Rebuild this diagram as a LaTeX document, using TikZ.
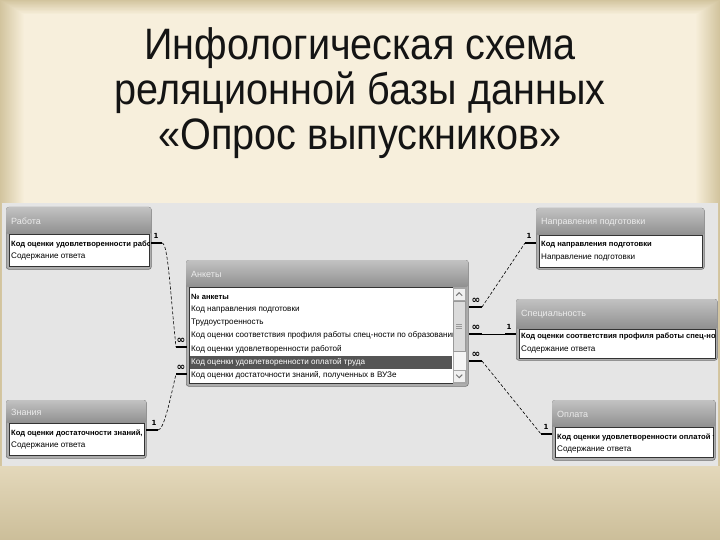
\documentclass[tikz,border=0pt]{standalone}
\usepackage{fontspec}
\setmainfont{Liberation Sans}
\newfontfamily\symf{DejaVu Sans}
\definecolor{tanedge}{HTML}{D2C49E}
\definecolor{cream}{HTML}{F9F1DE}
\definecolor{panel}{HTML}{E5E5E5}
\definecolor{selgray}{HTML}{555555}
\begin{document}
\begin{tikzpicture}[x=1pt,y=-1pt,
  tblbox/.style={draw=black!55, fill=black!32, rounded corners=2.5pt, inner sep=0pt, anchor=north west, line width=0.6pt},
  tblbar/.style={inner sep=0pt, anchor=north west, top color=black!24, bottom color=black!44, rounded corners=2.5pt},
  field/.style={draw=black!80, fill=white, inner sep=0pt, anchor=north west, line width=0.5pt},
  tbltitle/.style={anchor=west, text=black!8, font=\fontsize{9}{10}\selectfont, inner sep=0pt},
  keyrow/.style={anchor=west, inner sep=0pt, font=\fontsize{7.6}{8}\selectfont\bfseries},
  fieldrow/.style={anchor=west, inner sep=0pt, font=\fontsize{8.1}{9}\selectfont},
  selrow/.style={anchor=west, inner sep=0pt, text=white, font=\fontsize{8.1}{9}\selectfont},
  selbar/.style={fill=selgray, inner sep=0pt, anchor=north west},
  card/.style={font=\symf\fontsize{7}{7}\selectfont\bfseries, inner sep=0pt},
  many/.style={font=\symf\fontsize{10.5}{10}\selectfont\bfseries, inner sep=0pt},
  keyend/.style={line width=2.2pt},
  rel/.style={line width=0.6pt, dash pattern=on 3pt off 2pt},
  solidrel/.style={line width=0.7pt},
  sbtn/.style={draw=black!35, fill=black!6, inner sep=0pt, anchor=north west},
  sthumb/.style={draw=black!40, fill=black!14, inner sep=0pt, anchor=north west},
  titletxt/.style={align=center, font=\fontsize{44}{45}\selectfont, text=black!92}
]
\useasboundingbox (0,0) rectangle (720,540);
% background frame
\fill[tanedge] (0,0) rectangle (720,540);
\foreach \i in {0,...,24}{
  \pgfmathtruncatemacro\p{100-\i*4}
  \fill[tanedge!\p!cream] (\i*1.0,\i*0.6) rectangle (720-\i*1.0,540);
}
% screenshot panel
\fill[panel] (2,203) rectangle (718,466);
\shade[top color=tanedge!55!cream, bottom color=tanedge!97!black] (0,466) rectangle (720,540);

% title
\node[titletxt] (title) at (360,93) {\scalebox{0.9}[1]{Инфологическая схема}\\\scalebox{0.9}[1]{реляционной базы данных}\\\scalebox{0.9}[1]{«Опрос выпускников»}};

% ---------- Работа
\node[tblbox, minimum width=145, minimum height=62] (rab) at (6,207) {};
\node[tblbar, minimum width=145, minimum height=27] (rabbar) at (6,207) {};
\node[tbltitle] (rabT) at (11,221) {Работа};
\node[field, minimum width=140, minimum height=32] (rabF) at (9,234) {};
\begin{scope}
\clip (9,234) rectangle (149,266);
\node[keyrow] (rab1) at (11,244) {Код оценки удовлетворенности работой};
\node[fieldrow] (rab2) at (11,257) {Содержание ответа};
\end{scope}

% ---------- Знания
\node[tblbox, minimum width=140, minimum height=58] (zn) at (6,400) {};
\node[tblbar, minimum width=140, minimum height=23] (znbar) at (6,400) {};
\node[tbltitle] (znT) at (11,412) {Знания};
\node[field, minimum width=135, minimum height=32] (znF) at (9,423) {};
\begin{scope}
\clip (9,423) rectangle (144,455);
\node[keyrow] (zn1) at (11,433) {Код оценки достаточности знаний, полученных};
\node[fieldrow] (zn2) at (11,446) {Содержание ответа};
\end{scope}

% ---------- Анкеты
\node[tblbox, minimum width=282, minimum height=126] (ank) at (186,260) {};
\node[tblbar, minimum width=282, minimum height=27] (ankbar) at (186,260) {};
\node[tbltitle] (ankT) at (191,274) {Анкеты};
\node[field, minimum width=277, minimum height=96] (ankF) at (189,287) {};
\node[selbar, minimum width=262, minimum height=12.5] (ankSel) at (190,356) {};
\begin{scope}
\clip (189,287) rectangle (452,383);
\node[keyrow] (ankr1) at (191,296.5) {№ анкеты};
\node[fieldrow] (ankr2) at (191,309.5) {Код направления подготовки};
\node[fieldrow] (ankr3) at (191,322.6) {Трудоустроенность};
\node[fieldrow] (ankr4) at (191,335.8) {Код оценки соответствия профиля работы спец-ности по образованию};
\node[fieldrow] (ankr5) at (191,349) {Код оценки удовлетворенности работой};
\node[selrow] (ankr6) at (191,362.2) {Код оценки удовлетворенности оплатой труда};
\node[fieldrow] (ankr7) at (191,375.4) {Код оценки достаточности знаний, полученных в ВУЗе};
\end{scope}
% scrollbar
\node[sbtn, fill=black!4, minimum width=13, minimum height=96] (sbtrack) at (452.5,287) {};
\node[sbtn, minimum width=12, minimum height=12] (sbup) at (453,288) {};
\node[sthumb, minimum width=12, minimum height=50] (sbthumb) at (453,301) {};
\node[sbtn, minimum width=12, minimum height=12] (sbdown) at (453,370) {};
\draw[black!55, line width=1pt] (sbup.center) ++(-3,1.5) -- ++(3,-3) -- ++(3,3);
\draw[black!55, line width=1pt] (sbdown.center) ++(-3,-1.5) -- ++(3,3) -- ++(3,-3);
\draw[black!40, line width=0.5pt] (sbthumb.center) ++(-3,-2) -- ++(6,0) ++(-6,2) -- ++(6,0) ++(-6,2) -- ++(6,0);

% ---------- Направления подготовки
\node[tblbox, minimum width=168, minimum height=61] (nap) at (536,208) {};
\node[tblbar, minimum width=168, minimum height=27] (napbar) at (536,208) {};
\node[tbltitle] (napT) at (541,222) {Направления подготовки};
\node[field, minimum width=163, minimum height=32] (napF) at (539,235) {};
\begin{scope}
\clip (539,235) rectangle (702,267);
\node[keyrow] (nap1) at (541,245) {Код направления подготовки};
\node[fieldrow] (nap2) at (541,258) {Направление подготовки};
\end{scope}

% ---------- Специальность
\node[tblbox, minimum width=201, minimum height=61] (spe) at (516,299) {};
\node[tblbar, minimum width=201, minimum height=30] (spebar) at (516,299) {};
\node[tbltitle] (speT) at (521,314) {Специальность};
\node[field, minimum width=196, minimum height=29] (speF) at (519,329) {};
\begin{scope}
\clip (519,329) rectangle (715,358);
\node[keyrow] (spe1) at (521,337) {Код оценки соответствия профиля работы спец-ности};
\node[fieldrow] (spe2) at (521,350) {Содержание ответа};
\end{scope}

% ---------- Оплата
\node[tblbox, minimum width=163, minimum height=60] (opl) at (552,400) {};
\node[tblbar, minimum width=163, minimum height=27] (oplbar) at (552,400) {};
\node[tbltitle] (oplT) at (557,414) {Оплата};
\node[field, minimum width=158, minimum height=30] (oplF) at (555,427) {};
\begin{scope}
\clip (555,427) rectangle (713,457);
\node[keyrow] (opl1) at (557,437) {Код оценки удовлетворенности оплатой труда};
\node[fieldrow] (opl2) at (557,450) {Содержание ответа};
\end{scope}

% ---------- connector end points
\coordinate (cRab) at (151,243);   \coordinate (cRab2) at (162,243);
\coordinate (cA5b) at (176,347);   \coordinate (cA5) at (187,347);
\coordinate (cZn) at (146,430);    \coordinate (cZn2) at (158,430);
\coordinate (cA7b) at (176,374);   \coordinate (cA7) at (187,374);
\coordinate (cA2) at (469,307);    \coordinate (cA2b) at (482,307);
\coordinate (cNap2) at (525,243);  \coordinate (cNap) at (536,243);
\coordinate (cA4) at (469,334);    \coordinate (cA4b) at (482,334);
\coordinate (cSpe2) at (505,334);  \coordinate (cSpe) at (516,334);
\coordinate (cA6) at (469,361);    \coordinate (cA6b) at (482,361);
\coordinate (cOpl2) at (541,434);  \coordinate (cOpl) at (552,434);

% Работа – Анкеты
\draw[keyend] (cRab) -- (cRab2);
\draw[rel] (cRab2) .. controls (168,243) and (170,290) .. (cA5b);
\draw[keyend] (cA5b) -- (cA5);
% Знания – Анкеты
\draw[keyend] (cZn) -- (cZn2);
\draw[rel] (cZn2) .. controls (164,430) and (170,400) .. (cA7b);
\draw[keyend] (cA7b) -- (cA7);
% Анкеты – Направления
\draw[keyend] (cA2) -- (cA2b);
\draw[rel] (cA2b) -- (cNap2);
\draw[keyend] (cNap2) -- (cNap);
% Анкеты – Специальность
\draw[keyend] (cA4) -- (cA4b);
\draw[solidrel] (cA4b) -- (cSpe2);
\draw[keyend] (cSpe2) -- (cSpe);
% Анкеты – Оплата
\draw[keyend] (cA6) -- (cA6b);
\draw[rel] (cA6b) -- (cOpl2);
\draw[keyend] (cOpl2) -- (cOpl);

% cardinality labels
\node[card] (l1) at (156,236) {1};
\node[card] (l2) at (154,423) {1};
\node[card] (l3) at (529,236) {1};
\node[card] (l4) at (509,327) {1};
\node[card] (l5) at (546,427) {1};
\node[many] (m1) at (181,340.5) {∞};
\node[many] (m2) at (181,367.5) {∞};
\node[many] (m3) at (476,300.5) {∞};
\node[many] (m4) at (476,327.5) {∞};
\node[many] (m5) at (476,354.5) {∞};
\end{tikzpicture}
\end{document}
